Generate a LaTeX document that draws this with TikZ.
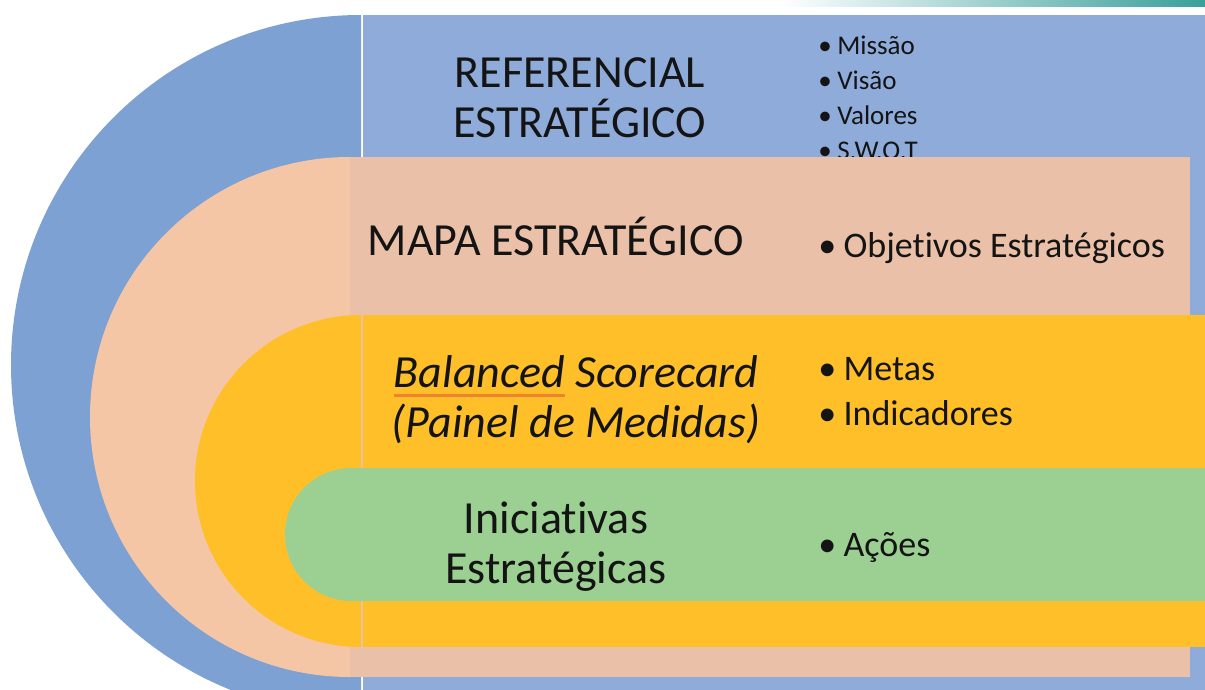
\documentclass[tikz,border=0pt]{standalone}
\usepackage{fontspec}
\setmainfont{Carlito}[Ligatures={NoCommon}]

\definecolor{blueL}{HTML}{7EA1D3}
\definecolor{blueR}{HTML}{8EABDA}
\definecolor{peachL}{HTML}{F5C6A6}
\definecolor{peachR}{HTML}{EAC1A8}
\definecolor{sunny}{HTML}{FEBF29}
\definecolor{leaf}{HTML}{9BD092}
\definecolor{barteal}{HTML}{3A9F9B}
\definecolor{spellorange}{HTML}{F0822F}
\definecolor{ink}{HTML}{141414}

\newlength\spellwd
\newcommand\spellmark[1]{\settowidth{\spellwd}{#1}\rlap{\textcolor{spellorange}{\rule[-0.2em]{\spellwd}{1.4pt}}}#1}
\newcommand\bul{\makebox[0.7em][l]{\textbullet}}

\begin{document}
\begin{tikzpicture}[x=0.5pt,y=-0.5pt,
		title/.style={font=\fontsize{23}{25}\selectfont, align=center, inner sep=0pt, text=ink},
		items/.style={font=\fontsize{18}{22.5}\selectfont, align=left, anchor=west, inner sep=0pt, text=ink},
		smallitems/.style={items, font=\fontsize{13.5}{17.5}\selectfont},
	]
	\useasboundingbox (0,0) rectangle (1205,690);
	\clip (0,0) rectangle (1205,690);
	\def\xm{361}

	% top bar
	\shade[left color=white, right color=barteal] (780,0) rectangle (1205,7);

	% referencial
	\fill[blueL] (\xm,15) arc[start angle=270, end angle=90, radius=350] -- cycle;
	\fill[blueR] (363,15) rectangle (1205,715);
	\node[title] (reftitle) at (580,98) {REFERENCIAL\\ESTRATÉGICO};
	\node[smallitems] (refitems) at (818,97.5) {\bul Missão\\\bul Visão\\\bul Valores\\\bul S.W.O.T};

	% mapa
	\fill[peachL] (350,157) arc[start angle=270, end angle=90, radius=260] -- cycle;
	\fill[peachR] (350,157) rectangle (1190,677);
	\node[title, anchor=base] (maptitle) at (556,255) {MAPA ESTRATÉGICO};
	\node[items, anchor=base west] (mapitems) at (818,257.5) {\bul Objetivos Estratégicos};

	% balanced scorecard
	\fill[sunny] (\xm,315) arc[start angle=270, end angle=90, radius=166] -- cycle;
	\fill[sunny] (363,315) rectangle (1205,647);
	\node[title, font=\fontsize{23}{25}\selectfont\itshape] (bsctitle) at (576,400)
		{\spellmark{Balanced} Scorecard\\(Painel de Medidas)};
	\node[items] (bscitems) at (818,392) {\bul Metas\\\bul Indicadores};

	% iniciativas
	\fill[leaf] (1205,468) -- (351.5,468) arc[start angle=270, end angle=90, radius=66.5]
		-- (1205,601) -- cycle;
	\node[title] (initle) at (556,546.5) {Iniciativas\\Estratégicas};
	\node[items, anchor=base west] (iniitems) at (818,556.5) {\bul Ações};
\end{tikzpicture}
\end{document}
